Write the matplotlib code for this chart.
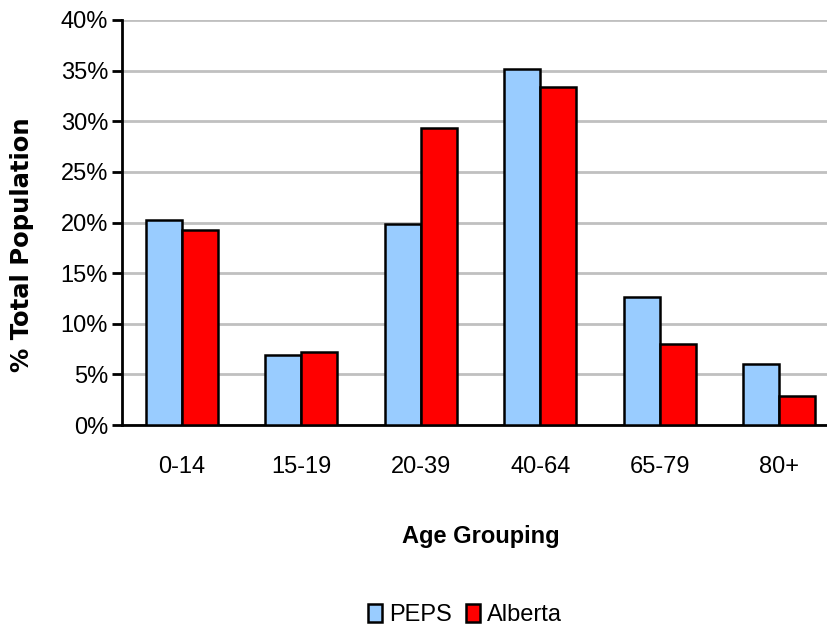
import matplotlib
matplotlib.use("Agg")
import matplotlib.pyplot as plt
import numpy as np

categories = ["0-14", "15-19", "20-39", "40-64", "65-79", "80+"]
peps = [20.2, 6.9, 19.9, 35.2, 12.6, 6.0]
alberta = [19.3, 7.2, 29.3, 33.4, 8.0, 2.9]
yticks = [0, 5, 10, 15, 20, 25, 30, 35, 40]

plt.rcParams['font.family'] = ['Liberation Sans', 'DejaVu Sans']

fig = plt.figure(figsize=(8.28, 6.3), dpi=100)
W, H = 828, 630
left, right, top, bottom = 122, 839, 20, 425
ax = fig.add_axes([left / W, 1 - bottom / H, (right - left) / W, (bottom - top) / H])

x = np.arange(len(categories))
w = 0.3
ax.bar(x - w / 2, peps, w, color="#99ccff", edgecolor="black", linewidth=1.8, label="PEPS", zorder=3)
ax.bar(x + w / 2, alberta, w, color="#ff0000", edgecolor="black", linewidth=1.8, label="Alberta", zorder=3)

ax.set_xlim(-0.5, len(categories) - 0.5)
ax.set_ylim(0, 40)
ax.set_yticks(yticks)
ax.set_yticklabels([f"{v}%" for v in yticks], fontsize=17)
ax.set_xticks(x)
ax.set_xticklabels(categories, fontsize=17)
ax.tick_params(axis='x', length=0, pad=22)
ax.tick_params(axis='y', length=7, width=2, direction='out', pad=3)
ax.yaxis.grid(True, color="#c0c0c0", linewidth=2, zorder=0)
for s in ["top", "right"]:
    ax.spines[s].set_visible(False)
ax.spines["left"].set_linewidth(2)
ax.spines["bottom"].set_linewidth(2)

ax.set_xlabel("Age Grouping", fontsize=17, fontweight="bold", labelpad=34)
fig.text(22 / W, 1 - 245 / H, "% Total Population", rotation=90, fontsize=17.5,
         fontweight="bold", ha="center", va="center", family="DejaVu Sans")

leg = fig.legend(loc="center", bbox_to_anchor=(465 / W, 1 - 615 / H), ncol=2, frameon=False,
                 fontsize=17, handlelength=0.6, handleheight=0.8, handletextpad=0.3, columnspacing=0.6)

fig.savefig("out.png", dpi=100)
